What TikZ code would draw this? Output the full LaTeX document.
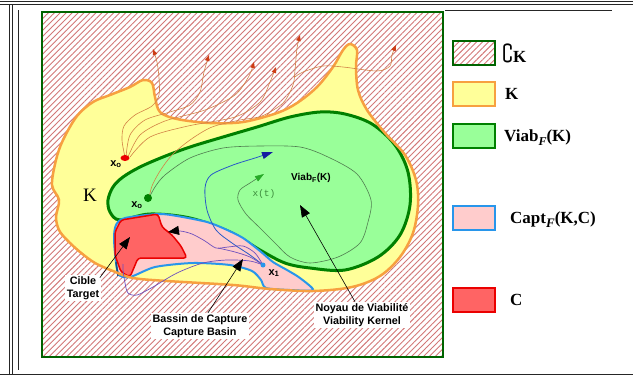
\documentclass[tikz,border=0pt]{standalone}
\usepackage{amssymb}
\usepackage{fontspec}
\setmainfont{Liberation Serif}
\setsansfont{Liberation Sans}
\setmonofont{Liberation Mono}
\usetikzlibrary{patterns.meta,arrows.meta}
\definecolor{hatchc}{RGB}{210,120,120}
\definecolor{yel}{RGB}{255,255,153}
\definecolor{ora}{RGB}{247,160,64}
\definecolor{grn}{RGB}{153,255,153}
\definecolor{dgrn}{RGB}{0,128,0}
\definecolor{pnk}{RGB}{255,204,204}
\definecolor{blu}{RGB}{40,150,235}
\definecolor{rd}{RGB}{255,100,100}
\definecolor{rdb}{RGB}{235,0,0}
\definecolor{trajc}{RGB}{210,130,70}
\definecolor{trajtip}{RGB}{205,60,20}
\definecolor{purp}{RGB}{110,80,190}
\definecolor{btraj}{RGB}{40,90,200}
\definecolor{btip}{RGB}{20,30,160}
\definecolor{xtc}{RGB}{80,125,80}
\definecolor{xtip}{RGB}{40,170,40}
\definecolor{rimg}{RGB}{0,100,0}
\definecolor{xtxt}{RGB}{60,140,60}
\begin{document}
\begin{tikzpicture}[x=1pt,y=-1pt,
  hatch/.style={pattern={Lines[angle=45,distance=4.2pt,line width=0.9pt]},pattern color=hatchc},
  otraj/.style={draw=trajc,line width=0.6pt,-{Triangle[length=6pt,width=4.5pt,color=trajtip]}},
  ptr/.style={draw=black,line width=0.6pt,-{Triangle[length=12pt,width=9pt]}},
  lbl/.style={font=\sffamily\bfseries\fontsize{10.8}{13}\selectfont,fill=white,align=center,inner sep=1.5pt},
  xlab/.style={font=\sffamily\bfseries\fontsize{11}{11}\selectfont,inner sep=0pt},
  leg/.style={font=\bfseries\fontsize{17}{17}\selectfont,anchor=west,inner sep=0pt},
  lbox/.style={minimum width=42pt,minimum height=24pt,line width=1.5pt,inner sep=0pt},
  frame/.style={draw=black!85,line width=0.8pt}]
\useasboundingbox[fill=white] (0,0) rectangle (633,376);
% table frame
\draw[frame,line width=1.2pt] (0,1.5) -- (633,1.5);
\draw[frame] (0,4.5) -- (633,4.5);
\draw[frame] (9.5,4.5) -- (9.5,374);
\draw[frame] (12.5,4.5) -- (12.5,374);
\draw[frame] (18.5,10) -- (18.5,370);
\draw[frame] (445,10) -- (612,10);
\draw[frame,line width=1.5pt] (0,374.5) -- (633,374.5);
% complement (hatched)
\path[hatch] (42,12) rectangle (443,357);
\draw[rimg,line width=1.5pt] (42,12) rectangle (443,357);
% K
\path[fill=yel] plot[smooth cycle,tension=0.55] coordinates {
 (52,185) (56,160) (63,140) (77,116) (93,102) (110,95) (130,87) (143,80) (152,83)
 (155,97) (160,112) (177,119) (210,123) (243,122) (277,113) (297,103) (317,87)
 (333,67) (343,50) (350,44) (357,50) (356,67) (358,90) (367,110) (385,133)
 (405,155) (416,180) (418,205) (413,233) (400,257) (380,276) (352,287) (313,291)
 (270,289) (233,285) (167,281) (133,278) (113,271) (95,263) (80,252) (67,240)
 (59,230) (56,217) (59,200)};
% Viab
\draw[fill=grn,draw=dgrn,line width=3pt] plot[smooth cycle,tension=0.55] coordinates {
 (108,200) (113,187) (123,177) (140,167) (163,157) (190,147) (223,137) (257,127)
 (290,117) (320,112) (345,114) (372,124) (395,145) (408,172) (410,205) (400,235)
 (378,257) (345,270) (310,268) (285,263) (260,250) (230,232) (190,218) (150,214)
 (120,220) (110,212)};
% Capt
\draw[fill=pnk,draw=blu,line width=2pt] plot[smooth cycle,tension=0.45] coordinates {
 (114,240) (116,225) (125,218) (158,214) (177,216) (207,222) (225,229) (243,238)
 (260,251) (273,262) (287,270) (300,278) (313,290) (290,290) (266,288) (261,280)
 (252,271) (230,265) (193,263) (155,267) (130,277) (118,273)};
% C
\draw[fill=rd,draw=rdb,line width=1.5pt,rounded corners=3pt]
 (115,232) -- (121,220) -- (158,214) -- (162,227) -- (172,235) -- (181,246)
 -- (187,258) -- (138,258) -- (133,270) -- (130,277) -- (121,272) -- (115,255) -- cycle;
\draw[blu!55!black,line width=1.5pt] (116,262) -- (118,276);
% K border on top
\draw[ora,line width=2.5pt] plot[smooth cycle,tension=0.55] coordinates {
 (52,185) (56,160) (63,140) (77,116) (93,102) (110,95) (130,87) (143,80) (152,83)
 (155,97) (160,112) (177,119) (210,123) (243,122) (277,113) (297,103) (317,87)
 (333,67) (343,50) (350,44) (357,50) (356,67) (358,90) (367,110) (385,133)
 (405,155) (416,180) (418,205) (413,233) (400,257) (380,276) (352,287) (313,291)
 (270,289) (233,285) (167,281) (133,278) (113,271) (95,263) (80,252) (67,240)
 (59,230) (56,217) (59,200)};
% trajectories leaving K
\draw[otraj] plot[smooth] coordinates {(125,157) (122,140) (124,126) (135,115) (152,106) (159,95) (159,78) (157,62) (153,49)};
\draw[otraj] plot[smooth] coordinates {(126,157) (130,135) (145,120) (170,112) (190,105) (200,92) (204,72) (209,55)};
\draw[otraj] plot[smooth] coordinates {(128,157) (140,135) (165,121) (205,110) (235,95) (249,76) (254,62)};
\draw[otraj] plot[smooth] coordinates {(130,157) (150,137) (188,126) (235,117) (260,102) (270,82) (276,67)};
\draw[otraj] plot[smooth] coordinates {(149,198) (152,186) (160,171) (172,155) (190,140) (212,127) (240,120) (262,116) (283,103) (293,85) (295,70) (297,48) (300,35)};
\draw[otraj] plot[smooth] coordinates {(295,77) (303,72) (323,66) (343,67) (377,71) (390,66) (392,55) (396,45)};
% x(t) trajectory
\draw[xtc,line width=0.6pt,-{Triangle[length=9pt,width=6pt,color=xtip]}] plot[smooth,tension=0.5] coordinates {
 (149,198) (155,187) (165,175) (190,158) (223,148) (260,146) (300,147) (328,157)
 (357,174) (371,200) (368,222) (360,243) (338,257) (310,263) (290,257) (276,244)
 (260,228) (246,214) (238,200) (240,190) (250,183) (264,174)};
% blue trajectory
\draw[btraj,line width=0.8pt,-{Triangle[length=11pt,width=7pt,color=btip]}] plot[smooth] coordinates {
 (263,265) (250,255) (232,243) (216,230) (207,210) (205,188) (211,175) (233,165) (255,158) (273,152)};
% purple trajectories
\draw[purp,line width=0.7pt] plot[smooth] coordinates {(263,265) (250,257) (235,252) (218,248)};
\draw[purp,line width=0.7pt,-{Triangle[length=11pt,width=9pt,color=black]}] plot[smooth] coordinates {
 (263,265) (255,253) (243,246) (228,247) (216,248) (205,241) (192,234) (180,231) (168,232)};
\draw[purp,line width=0.7pt] plot[smooth] coordinates {
 (263,265) (250,261) (227,260) (203,263) (177,273) (153,287) (137,295) (128,293) (125,283) (123,270) (123,264)};
% points
\fill[rdb] (125,158) ellipse[x radius=4.5,y radius=3];
\fill[dgrn] (148,198) circle[radius=4];
\fill[blu] (263,265) circle[radius=2.5];
\node[xlab] (x0r) at (116,164) {x\textsubscript{o}};
\node[xlab] (x0g) at (137,205) {x\textsubscript{o}};
\node[xlab] (x1) at (274,273) {x\textsubscript{1}};
\node[font=\ttfamily\fontsize{9.5}{10}\selectfont,text=xtxt,inner sep=0pt] (xt) at (264,194) {x(t)};
\node[font=\sffamily\bfseries\fontsize{10}{10}\selectfont,inner sep=0pt] (viab) at (311,178) {Viab\textsubscript{F}(K)};
\node[font=\fontsize{19}{19}\selectfont,inner sep=0pt] (Kl) at (90,195) {K};
% labels and pointers
\node[lbl] (cible) at (83,288) {Cible\\Target};
\node[lbl] (bassin) at (200,326) {Bassin de Capture\\Capture Basin};
\node[lbl] (noyau) at (362,315) {Noyau de Viabilité\\Viability Kernel};
\coordinate (ctip) at (130,237);
\coordinate (btipc) at (243,259);
\coordinate (ntip) at (300,205);
\draw[ptr] ([xshift=-1pt,yshift=-3pt]cible.north east) -- (ctip);
\draw[ptr] ([xshift=8pt]bassin.north) -- (btipc);
\draw[ptr] ([xshift=-7pt]noyau.north) -- (ntip);
% legend
\node[lbox,hatch,draw=rimg] (l1) at (474,53) {};
\node[lbox,fill=yel,draw=ora] (l2) at (474,94) {};
\node[lbox,fill=grn,draw=dgrn] (l3) at (474,136) {};
\node[lbox,fill=pnk,draw=blu] (l4) at (474,218) {};
\node[lbox,fill=rd,draw=rdb] (l5) at (474,300) {};
\node[leg] (t1) at (502,53) {{\fontsize{22}{22}\selectfont$\complement$}K};
\node[leg] (t2) at (505,94) {K};
\node[leg] (t3) at (504,138) {Viab\raisebox{-4pt}{\fontsize{12}{12}\selectfont\textit{F}}(K)};
\node[leg] (t4) at (510,220) {Capt\raisebox{-4pt}{\fontsize{13}{13}\selectfont\textit{F}}(K,C)};
\node[leg] (t5) at (510,300) {C};
\end{tikzpicture}
\end{document}
